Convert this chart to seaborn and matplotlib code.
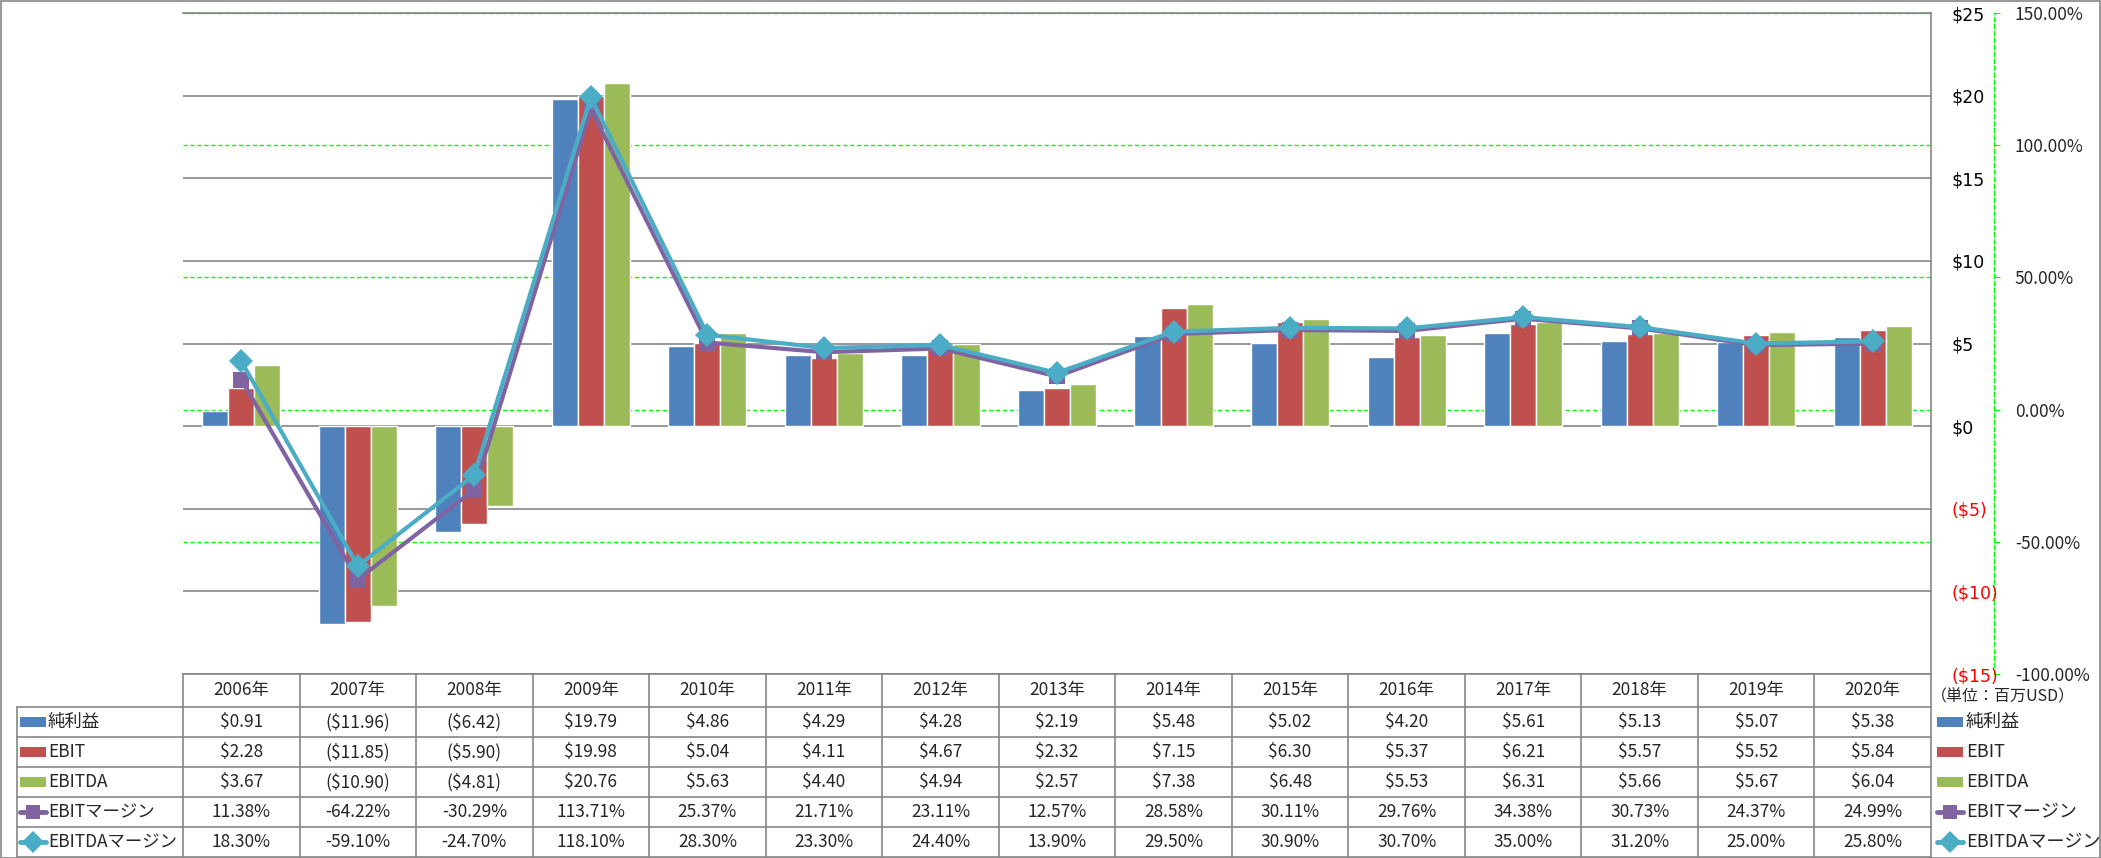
import numpy as np
import pandas as pd
import matplotlib
matplotlib.use("Agg")
import matplotlib.pyplot as plt
import matplotlib.transforms as mtransforms
from matplotlib.lines import Line2D
from matplotlib.patches import Rectangle
import seaborn as sns

# data (単位: 百万USD)
years = ["2006年", "2007年", "2008年", "2009年", "2010年", "2011年", "2012年", "2013年",
         "2014年", "2015年", "2016年", "2017年", "2018年", "2019年", "2020年"]
net_income = [0.91, -11.96, -6.42, 19.79, 4.86, 4.29, 4.28, 2.19, 5.48, 5.02, 4.20, 5.61, 5.13, 5.07, 5.38]
ebit = [2.28, -11.85, -5.90, 19.98, 5.04, 4.11, 4.67, 2.32, 7.15, 6.30, 5.37, 6.21, 5.57, 5.52, 5.84]
ebitda = [3.67, -10.90, -4.81, 20.76, 5.63, 4.40, 4.94, 2.57, 7.38, 6.48, 5.53, 6.31, 5.66, 5.67, 6.04]
ebit_margin = [11.38, -64.22, -30.29, 113.71, 25.37, 21.71, 23.11, 12.57, 28.58, 30.11, 29.76, 34.38, 30.73, 24.37, 24.99]
ebitda_margin = [18.30, -59.10, -24.70, 118.10, 28.30, 23.30, 24.40, 13.90, 29.50, 30.90, 30.70, 35.00, 31.20, 25.00, 25.80]

bar_names = ["純利益", "EBIT", "EBITDA"]
line_names = ["EBITマージン", "EBITDAマージン"]
dollar_ticks = [-15, -10, -5, 0, 5, 10, 15, 20, 25]
pct_ticks = [-100, -50, 0, 50, 100, 150]

blue, red, green, purple, cyan = "#4F81BD", "#C0504D", "#9BBB59", "#8064A2", "#4BACC6"
grid_gray = "#868686"

sns.set_style("white")
plt.rcParams['font.family'] = ['Noto Sans CJK JP', 'DejaVu Sans']

W, H = 2101, 858
def fx(x):
    return x / W
def fy(y):
    return 1 - y / H

def money(v):
    return f"${v:.2f}" if v >= 0 else f"(${-v:.2f})"

fig = plt.figure(figsize=(W / 100, H / 100), dpi=100)

# percent axis at the bottom (green grid), bars above it, lines on top
plot_left, plot_right, plot_top, plot_bottom = 183, 1931, 13, 674
ax_pct = fig.add_axes([fx(plot_left), fy(plot_bottom), fx(plot_right) - fx(plot_left), fy(plot_top) - fy(plot_bottom)])
ax_bar = ax_pct.twinx()
ax_line = ax_pct.twinx()

bar_df = pd.DataFrame({
    "year": years * 3,
    "series": [n for n in bar_names for _ in years],
    "value": net_income + ebit + ebitda,
})
sns.barplot(data=bar_df, x="year", y="value", hue="series", order=years, hue_order=bar_names,
            palette=[blue, red, green], width=0.67, saturation=1, ax=ax_bar, legend=False)

idx = np.arange(len(years))
sns.lineplot(x=idx, y=ebit_margin, color=purple, marker="s", markersize=11, markeredgewidth=0,
             linewidth=3, ax=ax_line)
sns.lineplot(x=idx, y=ebitda_margin, color=cyan, marker="D", markersize=12.5, markeredgewidth=0,
             linewidth=3, ax=ax_line)

for a in (ax_pct, ax_bar, ax_line):
    a.set_xlim(-0.5, len(years) - 0.5)
    a.set_xlabel("")
    a.set_ylabel("")
    a.tick_params(axis="x", bottom=False, labelbottom=False)
    for s in a.spines.values():
        s.set_visible(False)
    a.patch.set_visible(False)

ax_bar.set_ylim(-15, 25)
ax_pct.set_ylim(-100, 150)
ax_line.set_ylim(-100, 150)
ax_line.set_yticks([])

# $ axis
ax_bar.set_yticks(dollar_ticks)
ax_bar.set_yticklabels([f"${t}" if t >= 0 else f"(${-t})" for t in dollar_ticks])
ax_bar.tick_params(axis="y", right=True, left=False, labelright=True, labelleft=False,
                   length=0, pad=15, labelsize=12.5)
for t, lab in zip(dollar_ticks, ax_bar.get_yticklabels()):
    lab.set_color("red" if t < 0 else "black")
    lab.set_fontfamily("DejaVu Sans")
ax_bar.yaxis.grid(True, color=grid_gray, linewidth=1.2)
for side in ("right", "top", "bottom"):
    ax_bar.spines[side].set_visible(True)
    ax_bar.spines[side].set_color(grid_gray)
    ax_bar.spines[side].set_linewidth(1.2)

# % axis
ax_pct.yaxis.tick_right()
ax_pct.set_yticks(pct_ticks)
ax_pct.set_yticklabels([f"{t:.2f}%" for t in pct_ticks])
ax_pct.tick_params(axis="y", right=True, left=False, labelright=True, labelleft=False,
                   length=4, color="#00FF00", pad=11, labelsize=12.5)
for t, lab in zip(pct_ticks, ax_pct.get_yticklabels()):
    lab.set_color("red" if t < 0 else "black")
    lab.set_fontfamily("DejaVu Sans")
ax_pct.yaxis.grid(True, color="#00FF00", linestyle=(0, (3, 2)), linewidth=1)
ax_pct.spines["right"].set_visible(True)
ax_pct.spines["right"].set_position(("outward", 63 * 0.72))
ax_pct.spines["right"].set_color("#00FF00")
ax_pct.spines["right"].set_linestyle((0, (3, 2)))
ax_pct.spines["right"].set_linewidth(1)

# data table under the plot
col_tr = mtransforms.blended_transform_factory(ax_bar.transData, fig.transFigure)
row_edges = [674, 707, 737, 767, 797, 827, 857]
label_left = 17
line_kw = dict(color=grid_gray, linewidth=1.2)

for y in row_edges[1:]:
    fig.add_artist(Line2D([fx(label_left), fx(plot_right)], [fy(y)] * 2, transform=fig.transFigure, **line_kw))
for i in range(len(years) + 1):
    fig.add_artist(Line2D([i - 0.5, i - 0.5], [fy(row_edges[0]), fy(row_edges[-1])], transform=col_tr, **line_kw))
fig.add_artist(Line2D([fx(label_left)] * 2, [fy(row_edges[1]), fy(row_edges[-1])], transform=fig.transFigure, **line_kw))

txt_size = 12.5
head_y = fy((row_edges[0] + row_edges[1]) / 2)
for i, yr in enumerate(years):
    fig.text(i, head_y, yr, transform=col_tr, ha="center", va="center", fontsize=txt_size)

rows = [
    ("純利益", [money(v) for v in net_income], "bar", blue),
    ("EBIT", [money(v) for v in ebit], "bar", red),
    ("EBITDA", [money(v) for v in ebitda], "bar", green),
    ("EBITマージン", [f"{v:.2f}%" for v in ebit_margin], "s", purple),
    ("EBITDAマージン", [f"{v:.2f}%" for v in ebitda_margin], "D", cyan),
]

def legend_key(x0, yc, kind, color):
    if kind == "bar":
        fig.add_artist(Rectangle((fx(x0), fy(yc + 5)), fx(26), 10 / H, transform=fig.transFigure,
                                 facecolor=color, edgecolor="none"))
    else:
        fig.add_artist(Line2D([fx(x0), fx(x0 + 26)], [fy(yc)] * 2, transform=fig.transFigure,
                              color=color, linewidth=3.5))
        fig.add_artist(Line2D([fx(x0 + 13)], [fy(yc)], transform=fig.transFigure, color=color,
                              marker=kind, markersize=9.5 if kind == "s" else 11, markeredgewidth=0))

for r, (name, vals, kind, color) in enumerate(rows):
    yc = (row_edges[r + 1] + row_edges[r + 2]) / 2
    legend_key(20, yc, kind, color)
    fig.text(fx(48), fy(yc), name, ha="left", va="center", fontsize=txt_size)
    for i, v in enumerate(vals):
        fig.text(i, fy(yc), v, transform=col_tr, ha="center", va="center", fontsize=txt_size)
    # legend on the right side
    legend_key(1937, yc, kind, color)
    fig.text(fx(1966), fy(yc), name, ha="left", va="center", fontsize=13)

fig.text(fx(2003), fy(697), "（単位：百万USD）", ha="center", va="center", fontsize=11.5)

# outer chart border
fig.add_artist(Rectangle((0.5 / W, 0.5 / H), 1 - 1.5 / W, 1 - 1.5 / H, transform=fig.transFigure,
                         fill=False, edgecolor=grid_gray, linewidth=1.2))

fig.savefig("out.png", dpi=100)
